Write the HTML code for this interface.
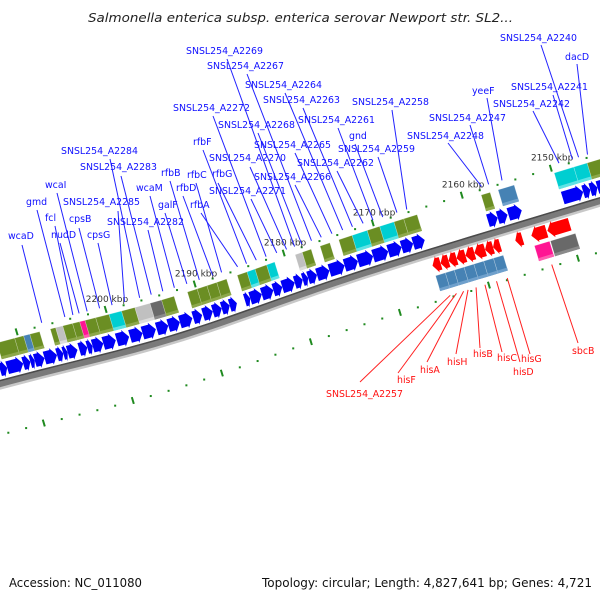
<!DOCTYPE html>
<html><head><meta charset="utf-8"><style>
html,body{margin:0;padding:0;background:#fff;}
svg{display:block;}
text{font-family:"DejaVu Sans","Liberation Sans",sans-serif;}
</style></head>
<body>
<svg id="map" width="600" height="600" viewBox="0 0 600 600" xmlns="http://www.w3.org/2000/svg">
<text x="88" y="22" font-size="12.5" font-style="italic" fill="#222" textLength="425" lengthAdjust="spacingAndGlyphs">Salmonella enterica subsp. enterica serovar Newport str. SL2...</text>
<g id="track"></g>
<g id="ann"></g>
<text x="9" y="587" font-size="12.5" fill="#111" textLength="133" lengthAdjust="spacingAndGlyphs">Accession: NC_011080</text>
<text x="262" y="587" font-size="12.5" fill="#111" textLength="330" lengthAdjust="spacingAndGlyphs">Topology: circular; Length: 4,827,641 bp; Genes: 4,721</text>
</svg>
<script>
// ---- data (kbp) ----
const fwdStart=[2212.9,2212.1,2210.3,2209.5,2209.0,2207.9,2206.5,2205.8,2205.3,2204.0,2203.1,2202.5,2201.3,2199.8,2198.3,2196.9,2195.3,2194.0,2192.7,2191.2,2190.1,2189.0,2188.0,2187.1,2185.4,2184.8,2183.5,2182.2,2181.2,2179.8,2178.9,2178.3,2177.3,2175.9,2174.2,2172.7,2171.0,2169.3,2167.8,2166.5,2158.1,2157.0,2155.8,2149.7,2147.4,2146.6,2145.8];
const fwdEnd=[2212.1,2210.3,2209.5,2209.0,2207.9,2206.5,2205.8,2205.3,2204.2,2203.1,2202.5,2201.3,2199.9,2198.4,2196.9,2195.4,2194.0,2192.7,2191.3,2190.2,2189.0,2188.0,2187.1,2186.3,2184.8,2183.5,2182.2,2181.2,2179.8,2178.9,2178.3,2177.3,2175.9,2174.2,2172.7,2171.0,2169.3,2167.8,2166.5,2165.2,2157.0,2155.9,2154.3,2147.4,2146.6,2145.8,2144.6];
const fboxStart=[2212.4,2210.4,2209.4,2208.7,2206.4,2205.8,2205.0,2203.9,2203.1,2202.5,2201.3,2199.8,2198.4,2196.9,2195.2,2193.9,2191.0,2189.9,2188.8,2187.7,2185.4,2184.3,2183.4,2182.1,2178.9,2178.1,2176.1,2174.0,2172.5,2170.8,2169.4,2167.8,2166.7,2158.0,2156.1,2149.8,2147.6,2146.1];
const fboxEnd=[2210.4,2209.4,2208.7,2207.6,2205.8,2205.0,2203.9,2203.1,2202.5,2201.3,2199.8,2198.4,2196.9,2195.2,2193.9,2192.5,2189.9,2188.8,2187.7,2186.6,2184.3,2183.4,2182.1,2181.2,2178.1,2177.1,2175.0,2172.5,2170.8,2169.4,2167.8,2166.7,2165.2,2157.0,2154.3,2147.6,2146.1,2144.4];
const fboxCat=["O","O","B","O","O","L","O","O","P","O","O","C","O","L","D","O","O","O","O","O","O","C","O","C","L","O","O","O","C","O","C","O","O","O","B","C","C","O"];
const revStart=[2165.2,2164.3,2163.4,2162.5,2161.5,2160.5,2159.3,2158.4,2155.9,2154.1,2152.3];
const revEnd=[2164.3,2163.4,2162.5,2161.5,2160.5,2159.3,2158.4,2157.6,2155.1,2152.4,2149.8];
const rboxStart=[2165.2,2164.1,2163.1,2162.0,2160.9,2159.8,2158.7,2154.1,2152.3];
const rboxEnd=[2164.1,2163.1,2162.0,2160.9,2159.8,2158.7,2157.6,2152.4,2149.5];
const rboxCat=["B","B","B","B","B","B","B","P","D"];
const tickLabels=[2200,2190,2180,2170,2160,2150];
const fwdNames=["wcaD","gmd","fcl","nudD","wcaI","cpsB","cpsG","SNSL254_A2285","SNSL254_A2284","SNSL254_A2283","SNSL254_A2282","wcaM","galF","rfbB","rfbD","rfbC","rfbA","rfbF","rfbG","SNSL254_A2272","SNSL254_A2271","SNSL254_A2270","SNSL254_A2269","SNSL254_A2268","SNSL254_A2267","SNSL254_A2266","SNSL254_A2265","SNSL254_A2264","SNSL254_A2263","SNSL254_A2262","SNSL254_A2261","gnd","SNSL254_A2259","SNSL254_A2258","SNSL254_A2248","SNSL254_A2247","yeeF","SNSL254_A2242","SNSL254_A2241","SNSL254_A2240","dacD"];
const fwdPos=[2207.1,2204.5,2203.6,2202.9,2202.0,2200.6,2199.2,2197.8,2196.1,2194.8,2193.5,2192.2,2190.8,2189.4,2187.9,2186.9,2185.1,2184.1,2183.0,2181.9,2180.7,2179.6,2178.7,2177.9,2176.8,2175.7,2174.5,2173.3,2172.2,2171.0,2169.9,2168.8,2167.2,2166.1,2157.7,2156.9,2155.4,2149.0,2147.5,2146.8,2145.8];
const revNames=["SNSL254_A2257","hisF","hisA","hisH","hisB","hisC","hisD","hisG","sbcB"];
const revPos=[2164.3,2163.6,2162.8,2162.3,2161.4,2160.4,2159.1,2157.9,2152.9];
// ---- label layout (screen px: text x, baseline y, line start x, line start y) ----
const fwdLayout=[[8,239,22,245],[26,205,37,210],[45,221,55,226],[51,238,60,243],[45,188,57,193],[69,222,79,228],[87,238,98,243],[63,205,118,211],[61,154,110,159],[80,170,121,176],[107,225,148,230],[136,191,150,196],[158,208,165,213],[161,176,170,181],[176,191,183,196],[187,178,196,183],[190,208,201,213],[193,145,203,150],[212,177,218,183],[173,111,213,116],[209,194,251,199],[209,161,250,167],[186,54,227,59],[218,128,258,133],[207,69,247,74],[254,180,295,185],[254,148,295,153],[245,88,285,93],[263,103,303,108],[297,166,337,171],[298,123,338,128],[349,139,355,144],[338,152,378,157],[352,105,392,110],[407,139,448,143],[429,121,470,125],[472,94,487,98],[493,107,533,111],[511,90,553,95],[500,41,541,45],[565,60,577,64]];
const revLayout=[[326,397,360,382],[397,383,398,373],[420,373,427,362],[447,365,456,354],[473,357,480,348],[497,361,502,352],[513,375,520,362],[521,362,530,354],[572,354,578,343]];

const NS="http://www.w3.org/2000/svg";
const COS=Math.cos(16.8*Math.PI/180), SIN=Math.sin(16.8*Math.PI/180);
function uScale(k){return 123.8+(2200-k)*9.3;}
function bend(x){return 8.5*Math.exp(-Math.pow((x-170)/135,2));}
function toScreen(u,v){const x=u*COS+v*SIN;return [x, 381-u*SIN+v*COS+bend(x)];}
function pts(list){return list.map(function(p){const s=toScreen(p[0],p[1]);return s[0].toFixed(2)+','+s[1].toFixed(2);}).join(' ');}
const colors={O:"#6b8e23",B:"#4682b4",C:"#00ced1",L:"#c0c0c0",D:"#696969",P:"#ff1493"};
const light={O:"#8da84a",B:"#6fa0cc",C:"#5fe3e5",L:"#dcdcdc",D:"#8a8a8a",P:"#ff5cb0"};
const trackG=document.getElementById('track');
const annG=document.getElementById('ann');
function mk(tag,attrs,parent){const e=document.createElementNS(NS,tag);for(const a in attrs)e.setAttribute(a,attrs[a]);parent.appendChild(e);return e;}

// backbone
const bbTop=[],bbBot=[],bbLow=[],bbHigh=[];
for(let u=-60;u<=760;u+=10){bbTop.push([u,-2.5]);bbBot.unshift([u,5]);bbLow.push([u,5.5]);bbHigh.push([u,-2]);}
let bb=mk('polygon',{points:pts(bbTop.concat(bbBot)),fill:'#7a7a7a'},trackG);


let bbs=mk('polyline',{points:pts(bbLow),fill:'none',stroke:'#c8c8c8','stroke-width':2.5},trackG);


let bbt=mk('polyline',{points:pts(bbHigh),fill:'none',stroke:'#4a4a4a','stroke-width':1.5},trackG);



// tick rows
for(let k=2216;k>=2140;k-=2){
  const u=uScale(k);
  [-44,50].forEach(function(v){
    let t;
    if(k%10===0){const a=toScreen(u,v-4),b=toScreen(u,v+3);t=mk('line',{x1:a[0],y1:a[1],x2:b[0],y2:b[1],stroke:'#1f8a1f','stroke-width':2},trackG);}
    else{const c=toScreen(u,v);t=mk('rect',{x:c[0]-1,y:c[1]-1,width:2,height:2,fill:'#1f8a1f'},trackG);}
    
    
  });
}
tickLabels.forEach(function(k){
  const p=toScreen(uScale(k),-44);
  const t=mk('text',{x:p[0]-20,y:p[1]-8,'font-size':9,fill:'#333'},annG);
  t.textContent=k+' kbp';
  
  
});

function arrow(k1,k2,t,b,dir,fill){
  const a=uScale(k1),e=uScale(k2);const len=e-a;const h=Math.min(6,len*0.6);const m=(t+b)/2;
  let p;
  if(dir>0){p=[[a,t+2],[e-h,t+2],[e-h,t],[e,m],[e-h,b],[e-h,b-2],[a,b-2]];}
  else{p=[[e,t+2],[a+h,t+2],[a+h,t],[a,m],[a+h,b],[a+h,b-2],[e,b-2]];}
  return mk('polygon',{points:pts(p),fill:fill},trackG);
}
for(let i=0;i<fwdStart.length;i++){
  const e=arrow(fwdStart[i],fwdEnd[i],-21,-4,1,'#0000f5');
  
  
}
for(let i=0;i<revStart.length;i++){
  const e=arrow(revStart[i],revEnd[i],6,23,-1,'#ff0000');
  
  
}
function box(k1,k2,t,b,cat){
  const a=uScale(k1),e=uScale(k2);
  const r=mk('polygon',{points:pts([[a,t],[e,t],[e,b],[a,b]]),fill:colors[cat],stroke:'#ffffff','stroke-opacity':0.35,'stroke-width':0.6},trackG);
  mk('polygon',{points:pts([[a,b-3],[e,b-3],[e,b],[a,b]]),fill:light[cat]},trackG);
  return r;
}
for(let i=0;i<fboxStart.length;i++){
  const e=box(fboxStart[i],fboxEnd[i],-39,-22,fboxCat[i]);
  
  
}
for(let i=0;i<rboxStart.length;i++){
  const e=box(rboxStart[i],rboxEnd[i],25,41,rboxCat[i]);
  
  
}

// labels
for(let i=0;i<fwdNames.length;i++){
  const L=fwdLayout[i];const p=toScreen(uScale(fwdPos[i]),-47);
  const ln=mk('line',{x1:L[2],y1:L[3],x2:p[0],y2:p[1],stroke:'#2222ff','stroke-width':1},annG);
  
  
  const t=mk('text',{x:L[0],y:L[1],'font-size':9.4,fill:'#1010ff'},annG);
  t.textContent=fwdNames[i];
  
  
}
for(let i=0;i<revNames.length;i++){
  const L=revLayout[i];const p=toScreen(uScale(revPos[i]),48);
  const ln=mk('line',{x1:p[0],y1:p[1],x2:L[2],y2:L[3],stroke:'#ff2020','stroke-width':1},annG);
  
  
  const t=mk('text',{x:L[0],y:L[1],'font-size':9.4,fill:'#ff1010'},annG);
  t.textContent=revNames[i];
  
  
}
</script>
</body></html>
